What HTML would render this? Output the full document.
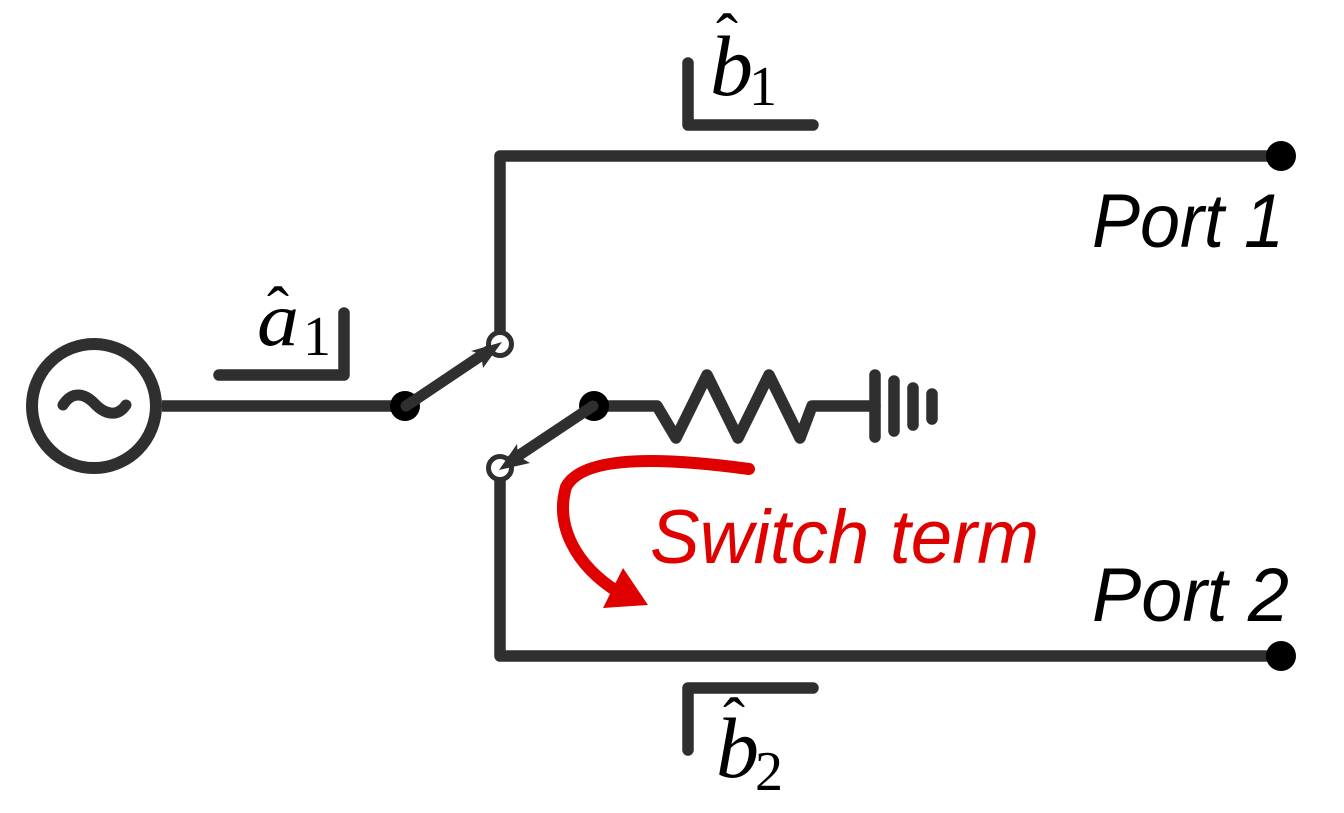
<!DOCTYPE html>
<html><head><meta charset="utf-8"><style>
html,body{margin:0;padding:0;background:#fff;width:1344px;height:813px;overflow:hidden}
svg{display:block}
.l{font-family:"Liberation Sans",sans-serif;font-style:italic;font-size:76px}
.m{font-family:"Liberation Serif",serif;font-style:italic}
.n{font-family:"Liberation Serif",serif}
</style></head><body>
<svg width="1344" height="813" viewBox="0 0 1344 813" xmlns="http://www.w3.org/2000/svg">
<g fill="none" stroke="#2f2f2f" stroke-width="11.5" stroke-linejoin="round" stroke-linecap="round">
<circle cx="94" cy="406" r="62" stroke-width="12"/>
<path d="M63,405 C72,391 84,393 94,403 C104,414 117,418 126,405" stroke-width="11"/>
<path d="M162,406 H405" stroke-linecap="butt"/>
<path d="M500,332 V156 H1281" stroke-linecap="butt"/>
<path d="M500,480 V656 H1281" stroke-linecap="butt"/>
<path d="M594,406 H657 L676,438 L707,375 L738,438 L769,375 L800,438 L812,406 H875"/>
<path d="M875,375 V437 M894,381 V431 M913,388 V425 M932,394 V419"/>
<path d="M688,63 V125 H813"/>
<path d="M344,313 V375 H219"/>
<path d="M813,688 H688 V750"/>
</g>
<circle cx="405" cy="406" r="15" fill="#000"/>
<circle cx="594" cy="406" r="15" fill="#000"/>
<circle cx="1281" cy="156" r="15" fill="#000"/>
<circle cx="1281" cy="656" r="15" fill="#000"/>
<circle cx="500" cy="344" r="11.5" fill="#fff" stroke="#2f2f2f" stroke-width="5"/>
<circle cx="500" cy="468" r="11.5" fill="#fff" stroke="#2f2f2f" stroke-width="5"/>
<path d="M406,406 L488,351" stroke="#2f2f2f" stroke-width="11" stroke-linecap="round"/>
<path d="M502,342 L471,351 L481,354 L483,368 Z" fill="#2f2f2f"/>
<path d="M593,406 L512,460" stroke="#2f2f2f" stroke-width="11" stroke-linecap="round"/>
<path d="M499,470 L517,444 L518,456 L530,463 Z" fill="#2f2f2f"/>
<path d="M749,469 C690,461 585,450 566,487 C555,525 575,565 618,592" fill="none" stroke="#df0000" stroke-width="12" stroke-linecap="round"/>
<path d="M623,568 L648,605 L603,608 Z" fill="#df0000"/>
<text class="l" x="1092" y="247" textLength="192" lengthAdjust="spacingAndGlyphs" fill="#000">Port 1</text>
<text class="l" x="1092" y="621" textLength="197" lengthAdjust="spacingAndGlyphs" fill="#000">Port 2</text>
<text class="l" x="650" y="563" textLength="389" lengthAdjust="spacingAndGlyphs" fill="#df0000">Switch term</text>
<text class="m" x="710" y="95" font-size="86" fill="#000">b</text>
<text class="n" x="716" y="59" font-size="66" fill="#000">ˆ</text>
<text class="n" x="749" y="105" font-size="56" fill="#000">1</text>
<text class="m" x="257" y="345" font-size="76" textLength="42" lengthAdjust="spacingAndGlyphs" fill="#000">a</text>
<text class="n" x="267" y="332" font-size="66" fill="#000">ˆ</text>
<text class="n" x="303" y="355" font-size="56" fill="#000">1</text>
<text class="m" x="716" y="777" font-size="86" fill="#000">b</text>
<text class="n" x="723" y="743" font-size="66" fill="#000">ˆ</text>
<text class="n" x="755" y="790" font-size="56" fill="#000">2</text>
</svg>
</body></html>
